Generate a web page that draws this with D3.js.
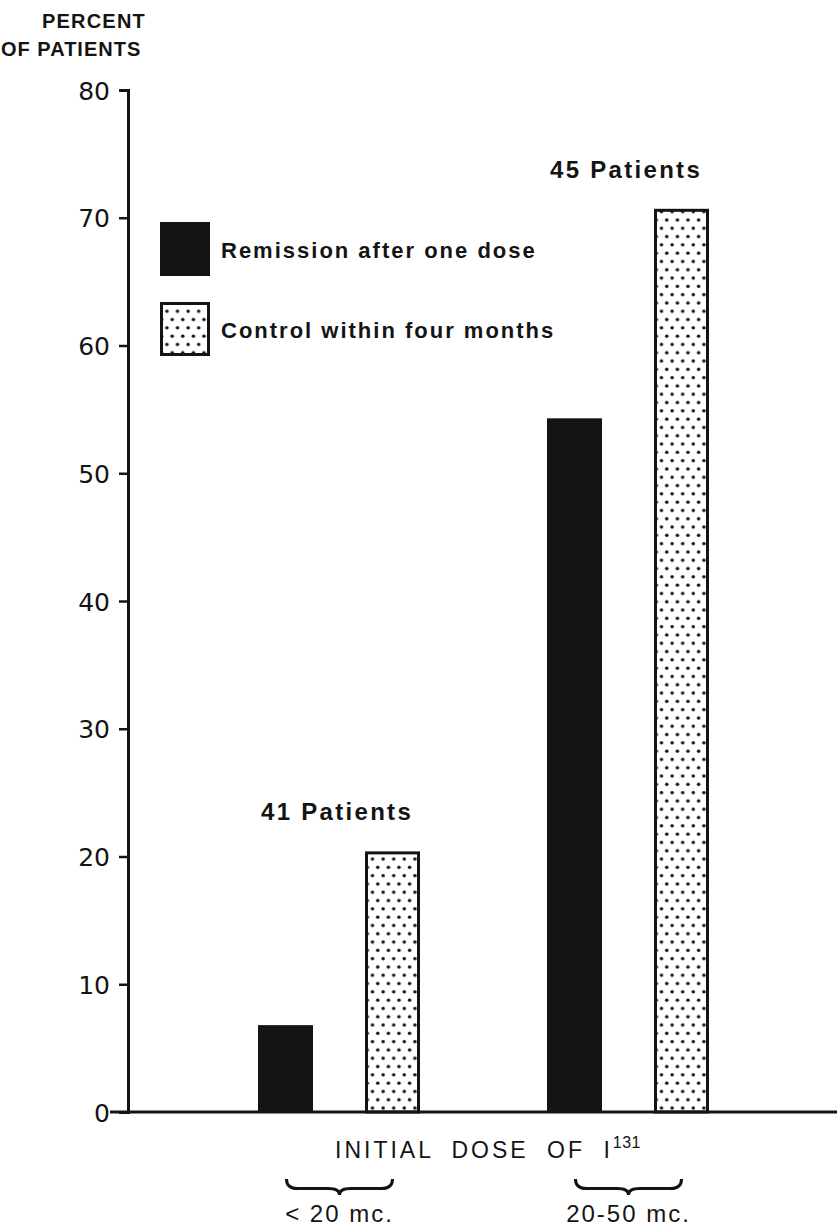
<!DOCTYPE html>
<html>
<head>
<meta charset="utf-8">
<script src="https://cdn.jsdelivr.net/npm/d3@7/dist/d3.min.js"></script>
<style>
  html, body { margin: 0; padding: 0; background: #fff; }
  svg { display: block; }
</style>
</head>
<body>
<svg id="chart" width="837" height="1226"></svg>
<script>
// ---- data ----
const groups = ["< 20 mc.", "20-50 mc."];
const seriesNames = ["Remission after one dose", "Control within four months"];
const remission = [6.8, 54.3];
const control = [20.4, 70.7];
const patientLabels = ["41 Patients", "45 Patients"];
const yTicks = [0, 10, 20, 30, 40, 50, 60, 70, 80];

// ---- setup ----
const svg = d3.select("#chart");
const ink = "#141414";
const sans = "'Liberation Sans', Arial, sans-serif";
const geo = "'DejaVu Sans', sans-serif";

const defs = svg.append("defs");
const pat = defs.append("pattern")
  .attr("id", "dots").attr("patternUnits", "userSpaceOnUse")
  .attr("width", 10.6).attr("height", 16.6);
pat.append("rect").attr("width", 10.6).attr("height", 16.6).attr("fill", "#fff");
pat.append("circle").attr("cx", 2.6).attr("cy", 4.1).attr("r", 1.75).attr("fill", ink);
pat.append("circle").attr("cx", 7.9).attr("cy", 12.4).attr("r", 1.75).attr("fill", ink);

const y = d3.scaleLinear().domain([0, 80]).range([1112, 90]);
const x0 = d3.scaleBand().domain(groups).range([195, 773]).padding(0);
const x1 = d3.scaleBand().domain(seriesNames).range([63, 225]).paddingInner(0.486).paddingOuter(0);

const fills = { [seriesNames[0]]: ink, [seriesNames[1]]: "url(#dots)" };

const rows = groups.map((g, i) => ({
  group: g,
  values: [
    { s: seriesNames[0], v: remission[i] },
    { s: seriesNames[1], v: control[i] }
  ]
}));

// bars
const gGroups = svg.append("g").selectAll("g").data(rows).join("g")
  .attr("transform", d => `translate(${x0(d.group)},0)`);
gGroups.selectAll("rect").data(d => d.values).join("rect")
  .attr("x", d => x1(d.s) + (d.s === seriesNames[1] ? 1.5 : 0))
  .attr("width", d => x1.bandwidth() - (d.s === seriesNames[1] ? 3 : 0))
  .attr("y", d => y(d.v) + (d.s === seriesNames[1] ? 1.5 : 0))
  .attr("height", d => y(0) - y(d.v) - (d.s === seriesNames[1] ? 1.5 : 0))
  .attr("fill", d => fills[d.s])
  .attr("stroke", d => d.s === seriesNames[1] ? ink : "none")
  .attr("stroke-width", 3);

// y axis
const yAxis = d3.axisLeft(y).tickValues(yTicks).tickSize(9).tickPadding(9).tickSizeOuter(9);
const gy = svg.append("g").attr("transform", "translate(128,0)").call(yAxis);
gy.select(".domain").attr("stroke", ink).attr("stroke-width", 3);
gy.selectAll(".tick line").attr("stroke", ink).attr("stroke-width", 2.5);
gy.selectAll(".tick text")
  .style("font-family", geo)
  .style("font-size", "25px").attr("fill", ink).attr("dy", "0.36em");
gy.selectAll(".tick").filter(d => d === 0).select("line").remove();

// x axis line
svg.append("line").attr("x1", 110).attr("x2", 837).attr("y1", y(0)).attr("y2", y(0))
  .attr("stroke", ink).attr("stroke-width", 3);

// y title
function txt(sel) {
  return sel.style("font-family", sans).attr("fill", ink);
}
txt(svg.append("text")).attr("x", 42).attr("y", 28)
  .style("font-size", "20px").style("font-weight", "bold").style("letter-spacing", "1.2px").text("PERCENT");
txt(svg.append("text")).attr("x", 1).attr("y", 56)
  .style("font-size", "20px").style("font-weight", "bold").style("letter-spacing", "1px").text("OF PATIENTS");

// legend
const legend = svg.append("g");
seriesNames.forEach((s, i) => {
  const ly = 222 + i * 80;
  legend.append("rect").attr("x", 161.5).attr("y", ly + 1.5).attr("width", 47).attr("height", 51)
    .attr("fill", fills[s]).attr("stroke", ink).attr("stroke-width", 3);
  txt(legend.append("text")).attr("x", 221).attr("y", ly + 36)
    .style("font-size", "22px").style("font-weight", "bold").style("letter-spacing", "2px").text(s);
});

// patient count labels
rows.forEach((r, i) => {
  const top = d3.max(r.values, d => d.v);
  txt(svg.append("text"))
    .attr("x", x0(r.group) + x1(seriesNames[0]) + 3)
    .attr("y", y(top) - 31)
    .style("font-size", "24px").style("font-weight", "bold").style("letter-spacing", "2.3px")
    .text(patientLabels[i]);
});

// x title
const xt = txt(svg.append("text")).attr("x", 335).attr("y", 1158)
  .style("font-size", "23px").style("letter-spacing", "3px").style("word-spacing", "9px");
xt.append("tspan").text("INITIAL DOSE OF I");
xt.append("tspan").attr("dy", -10).style("font-size", "16px").style("letter-spacing", "0.5px").text("131");

// braces + group labels
function brace(cx, top, w, h) {
  const l = cx - w / 2, r = cx + w / 2, m = top + h * 0.6, b = top + h, k = h * 0.7;
  return `M${l},${top} Q${l},${m} ${l + k},${m} L${cx - k},${m} Q${cx},${m} ${cx},${b} ` +
         `Q${cx},${m} ${cx + k},${m} L${r - k},${m} Q${r},${m} ${r},${top}`;
}
groups.forEach(g => {
  const cx = x0(g) + x0.bandwidth() / 2;
  svg.append("path").attr("d", brace(cx, 1179, 106, 16))
    .attr("fill", "none").attr("stroke", ink).attr("stroke-width", 3);
  txt(svg.append("text")).attr("x", cx).attr("y", 1222).attr("text-anchor", "middle")
    .style("font-size", "24px").style("letter-spacing", "2px").text(g);
});
</script>
</body>
</html>
